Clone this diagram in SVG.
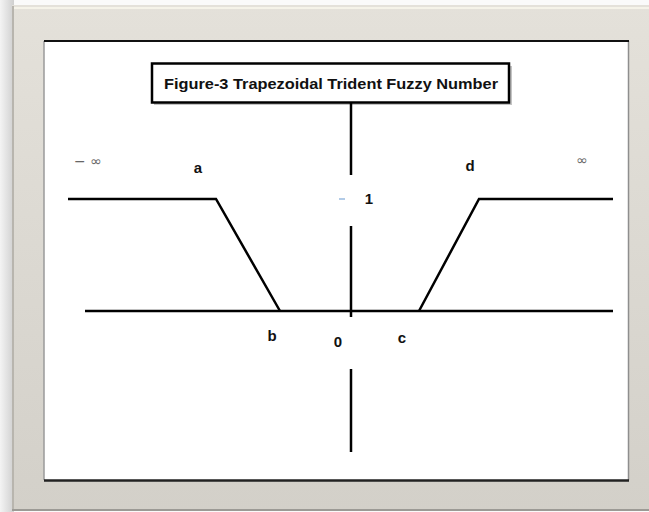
<svg xmlns="http://www.w3.org/2000/svg" width="649" height="512" viewBox="0 0 649 512">
  <defs>
    <linearGradient id="lshade" x1="0" y1="0" x2="1" y2="0">
      <stop offset="0" stop-color="#f4f4f4"/>
      <stop offset="1" stop-color="#cfcfcf"/>
    </linearGradient>
    <linearGradient id="frame" x1="0" y1="0" x2="0" y2="1">
      <stop offset="0" stop-color="#e4e1da"/>
      <stop offset="1" stop-color="#d3d0c9"/>
    </linearGradient>
  </defs>
  <style>
    .ln { stroke: #000; stroke-width: 2.5; fill: none; stroke-linecap: butt; }
    .lbl { font-family: "Liberation Sans", Arial, sans-serif; font-weight: bold; font-size: 15px; fill: #111; text-anchor: middle; }
    .inf { font-family: "DejaVu Sans", "Liberation Sans", sans-serif; font-size: 14px; fill: #666; text-anchor: middle; }
  </style>
  <rect x="0" y="0" width="649" height="512" fill="#fafafa"/>
  <rect x="0" y="0" width="14" height="512" fill="url(#lshade)"/>
  <g id="frame-outer">
    <rect x="12" y="5" width="640" height="506" fill="url(#frame)"/>
    <line x1="13" y1="6" x2="13" y2="511" stroke="#b8b5ae" stroke-width="2"/>
    <line x1="14" y1="8" x2="649" y2="8" stroke="#fbf8ee" stroke-width="1.5"/>
    <line x1="12" y1="510" x2="649" y2="510" stroke="#9c9a95" stroke-width="2"/>
  </g>
  <g id="panel">
    <rect x="44" y="41" width="585" height="439" fill="#fff"/>
    <line x1="44" y1="41" x2="44" y2="480" stroke="#9a9a9a" stroke-width="1.5"/>
    <line x1="628.5" y1="41" x2="628.5" y2="480" stroke="#8e8e8e" stroke-width="1.5"/>
    <line x1="44" y1="41" x2="629" y2="41" stroke="#111" stroke-width="2"/>
    <line x1="44" y1="480.5" x2="629" y2="480.5" stroke="#222" stroke-width="2.5"/>
  </g>
  <g id="title">
    <rect x="154" y="66" width="358" height="39" fill="#555" opacity="0.35"/>
    <rect x="152" y="63.5" width="357" height="39" fill="#fff" stroke="#000" stroke-width="2.5"/>
    <text x="331" y="89" font-family="Liberation Sans, Arial, sans-serif" font-weight="bold" font-size="15" fill="#111" text-anchor="middle" textLength="334" lengthAdjust="spacingAndGlyphs">Figure-3 Trapezoidal Trident Fuzzy Number</text>
  </g>
  <g id="connectors">
    <line class="ln" x1="351" y1="103" x2="351" y2="175"/>
    <line class="ln" x1="351" y1="226" x2="351" y2="317"/>
    <line class="ln" x1="351" y1="369" x2="351" y2="452"/>
    <line class="ln" x1="85" y1="311" x2="613" y2="311"/>
    <polyline class="ln" points="68,199 216,199 280,311"/>
    <polyline class="ln" points="419,311 479,199 613,199"/>
    <line x1="339" y1="199" x2="345" y2="199" stroke="#7fa8d8" stroke-width="1.2"/>
  </g>
  <g id="labels">
    <text class="inf" x="88" y="166">− ∞</text>
    <text class="inf" x="582" y="165">∞</text>
    <text class="lbl" x="198" y="173">a</text>
    <text class="lbl" x="470" y="171">d</text>
    <text class="lbl" x="369" y="204">1</text>
    <text class="lbl" x="272" y="341">b</text>
    <text class="lbl" x="338" y="347">0</text>
    <text class="lbl" x="402" y="343">c</text>
  </g>
</svg>
